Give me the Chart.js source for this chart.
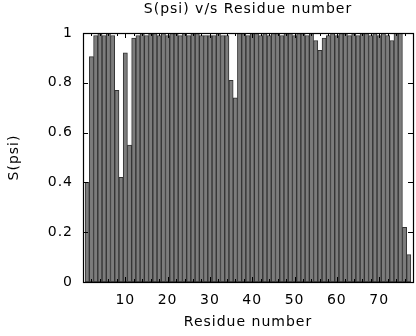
<!DOCTYPE html>
<html>
<head>
<meta charset="utf-8">
<script src="https://cdn.jsdelivr.net/npm/chart.js@4.4.1/dist/chart.umd.min.js"></script>
<style>
  html, body { margin: 0; padding: 0; background: #ffffff; }
  #wrap { width: 416px; height: 336px; position: relative; }
</style>
</head>
<body>
<div id="wrap"><canvas id="c" width="416" height="336"></canvas></div>
<script>
const residues = [1,2,3,4,5,6,7,8,9,10,11,12,13,14,15,16,17,18,19,20,21,22,23,24,25,26,27,28,29,30,31,32,33,34,35,36,37,38,39,40,41,42,43,44,45,46,47,48,49,50,51,52,53,54,55,56,57,58,59,60,61,62,63,64,65,66,67,68,69,70,71,72,73,74,75,76,77];
const spsi = [0.40,0.905,0.99,1.00,0.99,1.00,0.99,0.77,0.42,0.92,0.55,0.98,0.99,1.00,0.99,1.00,1.00,0.99,1.00,0.99,1.00,1.00,0.99,1.00,0.99,1.00,1.00,0.99,0.99,0.99,0.99,1.00,0.99,0.99,0.81,0.74,1.00,1.00,0.99,1.00,1.00,0.99,1.00,0.99,1.00,1.00,0.99,1.00,1.00,0.99,1.00,1.00,0.99,1.00,0.97,0.93,0.98,0.99,1.00,0.99,1.00,1.00,0.99,1.00,0.99,1.00,1.00,0.99,1.00,0.99,1.00,0.99,0.97,1.00,1.00,0.22,0.11];
const xMajorTicks = [10,20,30,40,50,60,70];
const yTicks = [0,0.2,0.4,0.6,0.8,1];
const chartTitle = 'S(psi) v/s Residue number';

const FONT = "'DejaVu Sans', Verdana, sans-serif";

const spacing = {
  id: 'spacing',
  beforeInit(chart) { try { chart.ctx.letterSpacing = '1px'; } catch (e) {} },
  beforeDraw(chart) { try { chart.ctx.letterSpacing = '1px'; } catch (e) {} }
};

const frame = {
  id: 'frame',
  afterDatasetsDraw(chart) {
    const {ctx, chartArea: a, scales: {x, y}} = chart;
    ctx.save();
    ctx.strokeStyle = '#000';
    ctx.lineWidth = 1;
    ctx.beginPath();
    xMajorTicks.forEach(v => {
      const px = Math.round(x.getPixelForValue(v)) + 0.5;
      ctx.moveTo(px, a.bottom); ctx.lineTo(px, a.bottom - 5);
      ctx.moveTo(px, a.top); ctx.lineTo(px, a.top + 5);
    });
    for (let v = 2; v < 78; v += 2) {
      if (v % 10 === 0) continue;
      const px = Math.round(x.getPixelForValue(v)) + 0.5;
      ctx.moveTo(px, a.bottom); ctx.lineTo(px, a.bottom - 3);
      ctx.moveTo(px, a.top); ctx.lineTo(px, a.top + 3);
    }
    yTicks.forEach(v => {
      const py = Math.round(y.getPixelForValue(v)) + 0.5;
      ctx.moveTo(a.left, py); ctx.lineTo(a.left + 5, py);
      ctx.moveTo(a.right, py); ctx.lineTo(a.right - 5, py);
    });
    ctx.stroke();
    ctx.lineWidth = 1.2;
    ctx.strokeRect(Math.round(a.left) + 0.5, Math.round(a.top) + 0.5, Math.round(a.right - a.left), Math.round(a.bottom - a.top));
    ctx.restore();
  }
};

new Chart(document.getElementById('c'), {
  type: 'bar',
  data: {
    datasets: [{
      data: residues.map((r, i) => ({x: r, y: spsi[i]})),
      backgroundColor: '#7c7c7c',
      borderColor: '#333333',
      borderWidth: 1,
      borderSkipped: false,
      categoryPercentage: 1.0,
      barPercentage: 1.0
    }]
  },
  plugins: [spacing, frame],
  options: {
    responsive: false,
    animation: false,
    devicePixelRatio: 1,
    layout: { padding: { left: 0, right: 3, top: 0, bottom: 0 } },
    plugins: {
      legend: { display: false },
      tooltip: { enabled: false },
      title: { display: false }
    },
    scales: {
      x: {
        type: 'linear',
        min: 0,
        max: 78,
        offset: false,
        grid: { display: false, drawTicks: false, offset: false },
        border: { display: false },
        ticks: {
          stepSize: 10,
          autoSkip: false,
          maxRotation: 0,
          padding: 10,
          color: '#000',
          font: { family: FONT, size: 14 },
          callback: (v) => xMajorTicks.includes(v) ? String(v) : ''
        },
        title: {
          display: true,
          text: 'Residue number',
          color: '#000',
          font: { family: FONT, size: 14 },
          padding: { top: 0, bottom: 5 }
        },
        afterFit: (s) => { s.height = 54; s.paddingLeft = 0; s.paddingRight = 0; }
      },
      xTop: {
        type: 'linear',
        position: 'top',
        min: 0,
        max: 78,
        offset: false,
        grid: { display: false, drawTicks: false },
        border: { display: false },
        ticks: { display: false },
        title: {
          display: true,
          text: chartTitle,
          color: '#000',
          font: { family: FONT, size: 14 },
          padding: { top: 1, bottom: 0 }
        },
        afterFit: (s) => { s.height = 33; s.paddingLeft = 0; s.paddingRight = 0; }
      },
      y: {
        min: 0,
        max: 1,
        grid: { display: false, drawTicks: false },
        border: { display: false },
        ticks: {
          stepSize: 0.2,
          padding: 10,
          color: '#000',
          font: { family: FONT, size: 14 },
          callback: (v) => String(Number(v.toFixed(1)))
        },
        title: {
          display: true,
          text: 'S(psi)',
          color: '#000',
          font: { family: FONT, size: 14 },
          padding: { top: 6, bottom: 0 }
        },
        afterFit: (s) => { s.width = 83; }
      }
    }
  }
});
</script>
</body>
</html>
